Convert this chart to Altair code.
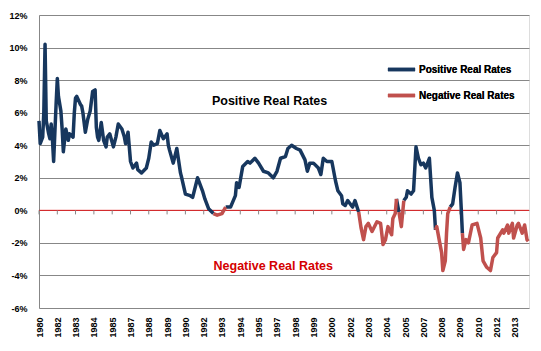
import altair as alt
import pandas as pd

# ---- data (monthly real policy rate, % ) ----
dates = [
    "1980-11", "1980-12", "1981-02", "1981-03", "1981-04", "1981-05", "1981-07", "1981-08", "1981-09", "1981-10",
    "1981-11", "1982-01", "1982-02", "1982-03", "1982-05", "1982-06", "1982-07", "1982-09", "1982-11", "1982-12",
    "1983-03", "1983-04", "1983-05", "1983-06", "1983-09", "1983-10", "1983-11", "1984-01", "1984-03", "1984-05",
    "1984-07", "1984-09", "1984-10", "1984-11", "1984-12", "1985-02", "1985-04", "1985-06", "1985-07", "1985-09",
    "1985-12", "1986-02", "1986-04", "1986-07", "1986-09", "1986-10", "1986-12", "1987-02", "1987-04", "1987-07",
    "1987-08", "1987-11", "1988-03", "1988-05", "1988-07", "1988-09", "1988-12", "1989-02", "1989-05", "1989-08",
    "1989-09", "1989-10", "1990-01", "1990-04", "1990-07", "1990-08", "1990-11", "1991-03", "1991-05", "1991-09",
    "1992-01", "1992-03", "1992-06", "1992-10", "1993-01", "1993-05", "1993-08", "1993-12", "1994-04", "1994-05",
    "1994-07", "1994-10", "1995-02", "1995-04", "1995-08", "1995-11", "1996-03", "1996-07", "1996-11", "1997-02",
    "1997-05", "1997-09", "1997-11", "1998-02", "1998-06", "1998-09", "1999-01", "1999-03", "1999-05", "1999-08",
    "1999-12", "2000-02", "2000-04", "2000-07", "2000-11", "2001-02", "2001-04", "2001-07", "2001-08", "2001-10",
    "2001-12", "2002-04", "2002-06", "2002-09", "2002-11", "2003-01", "2003-03", "2003-05", "2003-08", "2003-12",
    "2004-03", "2004-05", "2004-07", "2004-09", "2004-12", "2005-01", "2005-03", "2005-04", "2005-06", "2005-08",
    "2005-10", "2005-12", "2006-01", "2006-04", "2006-06", "2006-08", "2006-10", "2006-12", "2007-02", "2007-04",
    "2007-07", "2007-09", "2007-11", "2007-12", "2008-01", "2008-03", "2008-05", "2008-06", "2008-08", "2008-09",
    "2008-10", "2008-12", "2009-02", "2009-04", "2009-06", "2009-08", "2009-09", "2009-10", "2009-11", "2010-01",
    "2010-03", "2010-06", "2010-10", "2011-01", "2011-03", "2011-06", "2011-09", "2011-11", "2012-02", "2012-03",
    "2012-07", "2012-08", "2012-11", "2012-12", "2013-03", "2013-04", "2013-07", "2013-08", "2013-11", "2014-01",
    "2014-03", "2014-04",
]
rates = [
    5.5, 4.1, 4.5, 6.0, 10.2, 5.5, 4.7, 4.4, 5.3, 4.4,
    3.0, 6.5, 8.1, 7.0, 6.1, 5.0, 3.6, 5.0, 4.3, 4.7,
    4.5, 6.0, 6.9, 7.0, 6.5, 6.4, 6.0, 4.8, 5.6, 6.1,
    7.3, 7.4, 5.1, 4.5, 4.3, 5.4, 4.3, 3.9, 4.5, 4.7,
    3.9, 4.5, 5.3, 5.0, 4.5, 4.1, 4.8, 3.0, 2.6, 2.9,
    2.5, 2.3, 2.6, 3.2, 4.2, 4.0, 4.1, 4.9, 4.4, 4.7,
    4.0, 3.7, 2.9, 3.8, 2.3, 2.0, 1.0, 0.9, 0.8, 2.0,
    1.2, 0.7, 0.1, -0.2, -0.3, -0.2, 0.2, 0.2, 0.9, 1.7,
    1.4, 2.7, 3.0, 2.9, 3.2, 2.9, 2.4, 2.3, 2.0, 2.4,
    3.2, 3.3, 3.8, 4.0, 3.8, 3.7, 3.1, 2.4, 2.9, 2.9,
    2.6, 2.2, 3.2, 3.0, 3.0, 1.8, 1.2, 0.9, 0.4, 0.3,
    0.6, 0.2, 0.6, -0.1, -1.1, -1.8, -1.0, -0.8, -1.3, -0.7,
    -0.8, -2.1, -1.8, -1.0, -1.5, -0.5, -0.2, 0.7, -0.1, -1.0,
    0.6, 0.8, 1.2, 1.0, 1.2, 3.9, 3.2, 2.8, 2.9, 2.6,
    3.2, 0.8, 0.0, -1.2, -1.0, -1.8, -2.6, -3.7, -3.1, -1.4,
    -0.2, 0.2, 0.4, 1.4, 2.3, 1.7, 0.2, -1.4, -2.4, -1.8,
    -2.0, -0.9, -0.8, -1.7, -3.1, -3.5, -3.7, -2.9, -2.6, -1.7,
    -1.2, -1.4, -0.9, -1.4, -0.8, -1.7, -0.9, -0.8, -1.4, -0.9,
    -1.8, -1.9,
]
series_names = ["Positive Real Rates", "Negative Real Rates"]
series_colors = ["#17375e", "#c0504d"]
tick_months = [
    (1980, 11), (1982, 2), (1983, 5), (1984, 8), (1985, 11), (1987, 2), (1988, 5), (1989, 8), (1990, 11),
    (1992, 2), (1993, 5), (1994, 8), (1995, 11), (1997, 2), (1998, 5), (1999, 8), (2000, 11), (2002, 2),
    (2003, 5), (2004, 8), (2005, 11), (2007, 2), (2008, 5), (2009, 8), (2010, 11), (2012, 2), (2013, 5),
]
y_ticks = [-6, -4, -2, 0, 2, 4, 6, 8, 10, 12]
annot_text = ["Positive Real Rates", "Negative Real Rates"]
annot_date = ["1996-08-01", "1996-11-01"]
annot_rate = [6.7, -3.4]

# ---- build runs of same sign so each colour is a connected line ----
rows = []
run = 0
prev = None
for d, r in zip(dates, rates):
    s = series_names[0] if r >= 0 else series_names[1]
    full = d + "-01"
    if prev is not None and s != prev:
        rows.append({"date": full, "rate": r, "series": prev, "run": run})
        run += 1
    rows.append({"date": full, "rate": r, "series": s, "run": run})
    prev = s
df = pd.DataFrame(rows)

tick_vals = [alt.DateTime(year=y, month=m, date=1) for y, m in tick_months]
ticks_df = pd.DataFrame({"date": [f"{y}-{m:02d}-01" for y, m in tick_months],
                         "top": 0.0, "bot": -0.25})
annot_df = pd.DataFrame({"date": annot_date, "rate": annot_rate, "t": annot_text})

FONT = "Liberation Sans"
x_scale = alt.Scale(domain=[alt.DateTime(year=1980, month=11, date=1),
                            alt.DateTime(year=2014, month=4, date=20)])
y_scale = alt.Scale(domain=[-6, 12], nice=False, zero=False)

color = alt.Color(
    "series:N",
    scale=alt.Scale(domain=series_names, range=series_colors),
    legend=alt.Legend(
        title=None, orient="none", legendX=347, legendY=39,
        symbolType="stroke", symbolSize=740, symbolStrokeWidth=3.5,
        labelFont=FONT, labelFontSize=10, labelFontWeight="bold", labelColor="black",
        labelOffset=2, rowPadding=3, labelLimit=200,
    ),
)

x_axis = alt.Axis(values=tick_vals, format="%Y", labelAngle=270, title=None,
                  domain=False, ticks=False, grid=False, labelPadding=9,
                  labelFont=FONT, labelFontSize=9, labelFontWeight="bold",
                  labelColor="black", labelOverlap=False, labelBound=False)
y_axis = alt.Axis(values=y_ticks, labelExpr="datum.value + '%'", title=None,
                  grid=True, gridColor="#878787", gridWidth=1,
                  domain=True, domainColor="#878787", ticks=False, labelPadding=12,
                  labelFont=FONT, labelFontSize=9, labelFontWeight="bold",
                  labelColor="black", labelOverlap=False)

X = alt.X("date:T", scale=x_scale, axis=x_axis)
Y = alt.Y("rate:Q", scale=y_scale, axis=y_axis)

line_base = alt.Chart(df).encode(x=X, y=Y)

zero_rule = alt.Chart(pd.DataFrame({"rate": [0.0]})).mark_rule(color="#e31a1c", strokeWidth=1).encode(
    y=Y
)

tick_marks = alt.Chart(ticks_df).mark_rule(color="#878787", strokeWidth=1).encode(
    x=X,
    y=alt.Y("top:Q", scale=y_scale, axis=y_axis),
    y2="bot:Q",
)

pos_line = line_base.transform_filter(alt.datum.series == series_names[0]).mark_line(
    strokeWidth=3.5, strokeJoin="round").encode(color=color, detail="run:N")
neg_line = line_base.transform_filter(alt.datum.series == series_names[1]).mark_line(
    strokeWidth=3.5, strokeJoin="round").encode(color=color, detail="run:N")

texts = alt.Chart(annot_df).mark_text(font=FONT, fontSize=12.5, fontWeight="bold").encode(
    x=X, y=Y, text="t:N",
    color=alt.Color("t:N", scale=alt.Scale(domain=annot_text, range=["black", "#d40000"]), legend=None),
)

chart = alt.layer(zero_rule, tick_marks, pos_line, neg_line, texts).resolve_scale(
    color="independent"
).properties(
    width=490, height=293,
    autosize=alt.AutoSizeParams(type="none"),
    padding={"left": 39, "top": 15, "right": 12, "bottom": 43},
).configure_view(stroke=None).configure(background="white")

chart.save("out.html", embed_options={"renderer": "svg", "actions": False})
